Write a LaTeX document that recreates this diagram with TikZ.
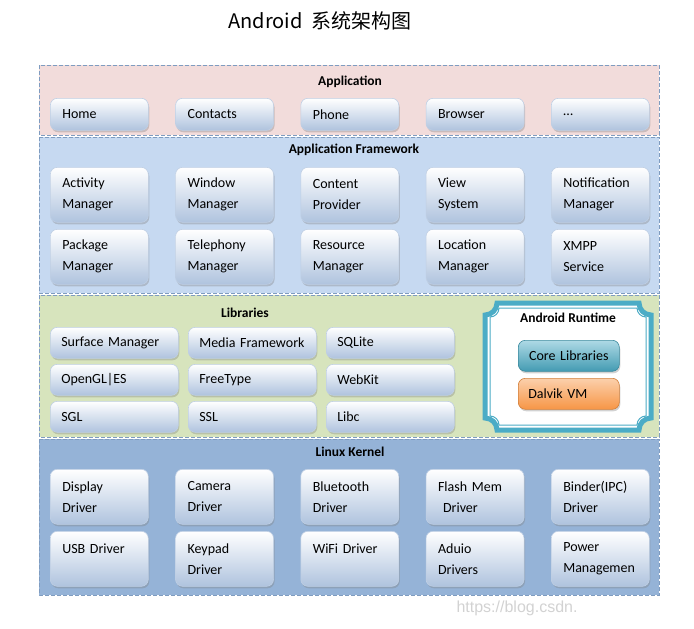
\documentclass[tikz,border=0pt]{standalone}
\usepackage{fontspec}
\setmainfont{Carlito}
\newfontfamily\cjkfont{Noto Sans CJK SC}
\newfontfamily\markfont{Liberation Sans}
\usetikzlibrary{positioning,shadows}

\definecolor{appbg}{HTML}{F2DCDB}
\definecolor{fwbg}{HTML}{C6D9F1}
\definecolor{libbg}{HTML}{D7E4BD}
\definecolor{kernbg}{HTML}{95B3D7}
\definecolor{layerline}{HTML}{7F9CC0}
\definecolor{boxline}{HTML}{BFCFE4}
\definecolor{boxblue}{HTML}{AFC3DE}
\definecolor{rtteal}{HTML}{4BACC6}
\definecolor{rtorange}{HTML}{F79646}

% x1 y1 x2 y2 r : frame with cut-in corners
\newcommand\plaquepath[5]{(#1+#5,#2) -- (#3-#5,#2)
  .. controls (#3-#5,#2+0.552*#5) and (#3-0.552*#5,#2+#5) .. (#3,#2+#5)
  -- (#3,#4-#5)
  .. controls (#3-0.552*#5,#4-#5) and (#3-#5,#4-0.552*#5) .. (#3-#5,#4)
  -- (#1+#5,#4)
  .. controls (#1+#5,#4-0.552*#5) and (#1+0.552*#5,#4-#5) .. (#1,#4-#5)
  -- (#1,#2+#5)
  .. controls (#1+0.552*#5,#2+#5) and (#1+#5,#2+0.552*#5) .. cycle}

\begin{document}
\begin{tikzpicture}[x=1pt, y=-1pt,
  layer/.style={draw=layerline, dash pattern=on 4pt off 2pt, line width=.8pt},
  layertitle/.style={font=\bfseries\fontsize{13.5}{15}\selectfont},
  modbox/.style={draw=boxline, line width=.6pt, rounded corners=7pt,
    top color=white, bottom color=boxblue, anchor=north west,
    inner xsep=12pt, inner ysep=0pt, align=left,
    font=\fontsize{14}{21}\selectfont,
    drop shadow={shadow xshift=1pt, shadow yshift=-2pt, opacity=.35}},
  ]
\useasboundingbox (0,0) rectangle (694,629);
%Titel
\node (title) at (320,21) {\cjkfont\fontsize{20}{24}\selectfont Android\ \ 系统架构图};

%Schichten
\draw[layer, fill=appbg] (39,65) rectangle (659,135);
\draw[layer, fill=fwbg] (39,137) rectangle (659,293);
\draw[layer, fill=libbg] (39,295) rectangle (659,437);
\draw[layer, fill=kernbg] (39,439) rectangle (659,595);
\node[layertitle] (apptitle) at (350,82) {Application};
\node[layertitle] (fwtitle) at (354,150) {Application Framework};
\node[layertitle] (libtitle) at (245,313) {Libraries};
\node[layertitle] (kerntitle) at (350,452) {Linux Kernel};

%Application
\foreach \name/\txt [count=\i from 0] in {home/Home, contacts/Contacts,
    phone/Phone, browser/Browser, more/{\ldots}}
  \node[modbox, text width=74pt, minimum height=32pt] (\name) at (50+125.25*\i,98) {\txt};

%Application Framework
\foreach \name/\txt [count=\i from 0] in {actmgr/Activity\\Manager,
    winmgr/Window\\Manager, content/Content\\Provider, view/View\\System,
    notif/Notification\\Manager}
  \node[modbox, text width=74pt, minimum height=55pt] (\name) at (50+125.25*\i,167) {\txt};
\foreach \name/\txt [count=\i from 0] in {pkgmgr/Package\\Manager,
    telmgr/Telephony\\Manager, resmgr/Resource\\Manager,
    locmgr/Location\\Manager, xmpp/XMPP\\Service}
  \node[modbox, text width=74pt, minimum height=55pt] (\name) at (50+125.25*\i,229) {\txt};

%Libraries
\foreach \name/\txt [count=\i from 0] in {surface/Surface~Manager,
    media/Media~Framework, sqlite/SQLite}
  \node[modbox, inner xsep=11pt, text width=106pt, minimum height=31pt] (\name) at (50+138*\i,327) {\txt};
\foreach \name/\txt [count=\i from 0] in {opengl/OpenGL|ES,
    freetype/FreeType, webkit/WebKit}
  \node[modbox, inner xsep=11pt, text width=106pt, minimum height=31pt] (\name) at (50+138*\i,364) {\txt};
\foreach \name/\txt [count=\i from 0] in {sgl/SGL, ssl/SSL, libc/Libc}
  \node[modbox, inner xsep=11pt, text width=106pt, minimum height=31pt] (\name) at (50+138*\i,401) {\txt};

%Android Runtime
\draw[rtteal, line width=5pt, fill=white] \plaquepath{485}{303}{651}{430}{12};
\draw[rtteal, line width=1pt] \plaquepath{490}{308}{646}{425}{9};
\node[layertitle] (rttitle) at (568,318) {Android Runtime};
\node[modbox, draw=rtteal!80!black, top color=rtteal!45!white, bottom color=rtteal!90!black,
  inner xsep=4pt, text width=93pt, align=center, minimum height=31pt] (corelib) at (518,340) {Core~Libraries};
\node[modbox, draw=rtorange!85!black, top color=rtorange!45!white, bottom color=rtorange,
  inner xsep=10pt, text width=81pt, minimum height=31pt] (dalvik) at (518,378) {Dalvik VM};

%Linux Kernel
\foreach \name/\txt [count=\i from 0] in {display/Display\\Driver,
    camera/Camera\\Driver, bluetooth/Bluetooth\\Driver,
    flash/Flash Mem\\\hspace*{5pt}Driver, binder/Binder(IPC)\\Driver}
  \node[modbox, text width=74pt, minimum height=55pt] (\name) at (50+125.25*\i,469) {\txt};
\foreach \name/\txt [count=\i from 0] in {usb/USB Driver\\\mbox{},
    keypad/Keypad\\Driver, wifi/WiFi Driver\\\mbox{},
    audio/Aduio\\Drivers, power/Power\\Managemen}
  \node[modbox, text width=74pt, minimum height=55pt] (\name) at (50+125.25*\i,531) {\txt};

\node[text=gray!35, font=\markfont\fontsize{16}{18}\selectfont, anchor=west] (mark) at (453,608) {https://blog.csdn.};
\end{tikzpicture}
\end{document}
